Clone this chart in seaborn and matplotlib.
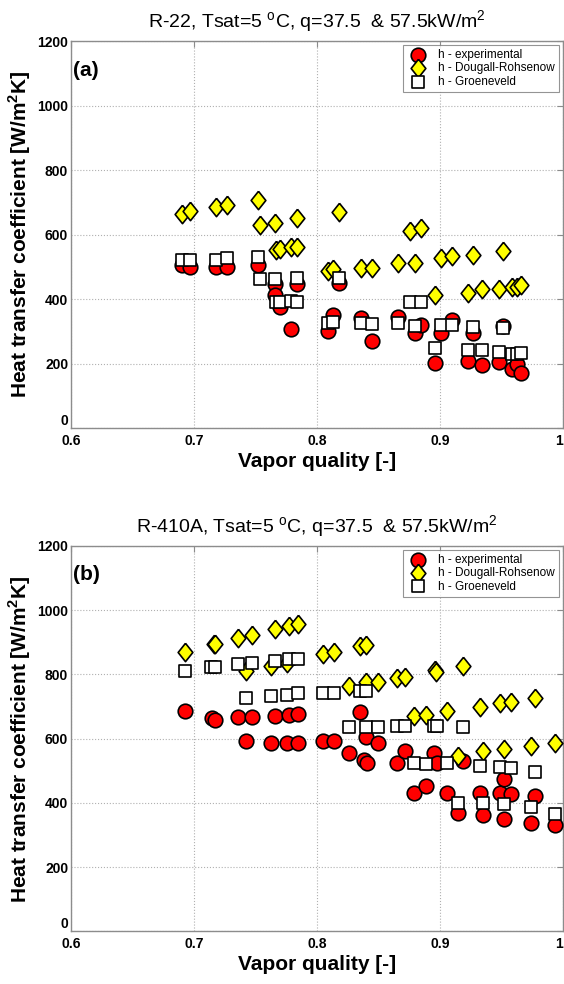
import matplotlib
matplotlib.use("Agg")
from matplotlib import pyplot as plt
import seaborn as sns

# Panel (a) : R-22
a_exp_x = [0.690, 0.697, 0.718, 0.727, 0.752, 0.766, 0.766, 0.770, 0.779, 0.784,
           0.809, 0.813, 0.818, 0.836, 0.845, 0.866, 0.880, 0.885, 0.896, 0.901,
           0.910, 0.923, 0.927, 0.934, 0.948, 0.951, 0.959, 0.963, 0.966]
a_exp_h = [504, 498, 498, 500, 507, 448, 412, 376, 306, 448,
           302, 350, 449, 340, 271, 345, 295, 319, 202, 295,
           335, 209, 294, 195, 206, 316, 182, 200, 171]

a_dr_x = [0.690, 0.697, 0.718, 0.727, 0.752, 0.754, 0.766, 0.767, 0.770, 0.779,
          0.784, 0.784, 0.809, 0.813, 0.818, 0.836, 0.845, 0.866, 0.876, 0.880,
          0.885, 0.896, 0.901, 0.910, 0.923, 0.927, 0.934, 0.948, 0.951, 0.959,
          0.963, 0.966]
a_dr_h = [665, 673, 684, 693, 707, 629, 636, 552, 554, 560,
          650, 560, 487, 492, 670, 497, 495, 512, 611, 512,
          619, 414, 526, 533, 419, 538, 430, 430, 550, 436,
          436, 443]

a_gr_x = a_dr_x
a_gr_h = [521, 521, 521, 526, 531, 461, 461, 392, 392, 394,
          464, 390, 327, 330, 464, 327, 322, 327, 390, 317,
          392, 247, 319, 321, 242, 314, 242, 237, 309, 231,
          231, 234]

# Panel (b) : R-410A
b_exp_x = [0.693, 0.715, 0.717, 0.736, 0.747, 0.742, 0.766, 0.763, 0.777, 0.776,
           0.785, 0.785, 0.805, 0.814, 0.835, 0.840, 0.826, 0.838, 0.841, 0.850,
           0.865, 0.872, 0.879, 0.889, 0.895, 0.898, 0.906, 0.919, 0.915, 0.933,
           0.935, 0.949, 0.952, 0.952, 0.958, 0.974, 0.977, 0.994]
b_exp_h = [686, 664, 658, 666, 666, 593, 671, 586, 674, 588,
           677, 586, 594, 594, 684, 605, 557, 534, 524, 586,
           524, 562, 432, 453, 557, 525, 430, 531, 368, 432,
           363, 430, 474, 349, 427, 339, 422, 332]

b_dr_x = [0.693, 0.716, 0.717, 0.736, 0.747, 0.742, 0.766, 0.763, 0.777, 0.776,
          0.785, 0.805, 0.814, 0.835, 0.840, 0.826, 0.840, 0.850, 0.865, 0.872,
          0.879, 0.889, 0.896, 0.897, 0.906, 0.919, 0.915, 0.933, 0.935, 0.949,
          0.952, 0.958, 0.974, 0.977, 0.994]
b_dr_h = [871, 894, 894, 912, 923, 812, 941, 826, 951, 835,
          957, 864, 871, 889, 892, 764, 777, 775, 788, 793,
          671, 673, 814, 808, 687, 827, 546, 700, 563, 712,
          567, 715, 577, 728, 586]

b_gr_x = [0.693, 0.714, 0.717, 0.736, 0.747, 0.742, 0.766, 0.763, 0.777, 0.776,
          0.785, 0.785, 0.805, 0.814, 0.835, 0.840, 0.826, 0.840, 0.850, 0.865,
          0.872, 0.879, 0.889, 0.895, 0.898, 0.906, 0.919, 0.915, 0.933, 0.935,
          0.949, 0.952, 0.958, 0.974, 0.977, 0.994]
b_gr_h = [812, 822, 822, 832, 837, 728, 843, 733, 847, 736,
          848, 742, 743, 743, 749, 749, 635, 635, 635, 638,
          638, 524, 521, 638, 638, 524, 635, 401, 515, 401,
          511, 397, 508, 387, 497, 366]

x_ticks = [0.6, 0.7, 0.8, 0.9, 1.0]
x_tick_labels = ["0.6", "0.7", "0.8", "0.9", "1"]
y_ticks = [0, 200, 400, 600, 800, 1000, 1200]

titles = [
    r"R-22, Tsat=5 $^{\mathrm{o}}$C, q=37.5  & 57.5kW/m$^{2}$",
    r"R-410A, Tsat=5 $^{\mathrm{o}}$C, q=37.5  & 57.5kW/m$^{2}$",
]
panel_tags = ["(a)", "(b)"]
legend_names = ["h - experimental", "h - Dougall-Rohsenow", "h - Groeneveld"]

# slightly tall diamond, like the MATLAB one
diamond = [(0, 1), (0.8, 0), (0, -1), (-0.8, 0), (0, 1)]

sns.set_style("white")
plt.rcParams["font.family"] = ["Liberation Sans", "DejaVu Sans"]
plt.rcParams["mathtext.fontset"] = "custom"
plt.rcParams["mathtext.rm"] = "Liberation Sans"
plt.rcParams["mathtext.bf"] = "Liberation Sans:bold"
plt.rcParams["text.color"] = "black"
plt.rcParams["axes.labelcolor"] = "black"
plt.rcParams["xtick.labelcolor"] = "black"
plt.rcParams["ytick.labelcolor"] = "black"

fig = plt.figure(figsize=(5.64, 9.84), dpi=100)
ax_a = fig.add_axes([0.1259, 0.565, 0.872, 0.3933])
ax_b = fig.add_axes([0.1259, 0.0534, 0.872, 0.3918])

panels = [
    (ax_a, a_exp_x, a_exp_h, a_dr_x, a_dr_h, a_gr_x, a_gr_h),
    (ax_b, b_exp_x, b_exp_h, b_dr_x, b_dr_h, b_gr_x, b_gr_h),
]

for i, (ax, ex, eh, dx, dh, gx, gh) in enumerate(panels):

    sns.scatterplot(x=ex, y=eh, ax=ax, marker="o", s=110,
                    color="#ff0000", edgecolor="black", linewidth=1.2,
                    label=legend_names[0], zorder=3)
    sns.scatterplot(x=dx, y=dh, ax=ax, marker=diamond, s=175,
                    color="#ffff00", edgecolor="black", linewidth=1.2,
                    label=legend_names[1], zorder=4)
    sns.scatterplot(x=gx, y=gh, ax=ax, marker="s", s=72,
                    color="white", edgecolor="black", linewidth=1.2,
                    label=legend_names[2], zorder=5)

    ax.set_xlim(0.6, 1.0)
    ax.set_ylim(0, 1200)
    ax.set_xticks(x_ticks)
    ax.set_xticklabels(x_tick_labels)
    ax.set_yticks(y_ticks)

    ax.grid(True, linestyle=":", color="#b0b0b0", linewidth=0.8)
    ax.set_axisbelow(True)
    for sp in ax.spines.values():
        sp.set_color("#8c8c8c")
        sp.set_linewidth(1.0)
    ax.tick_params(direction="in", length=4, width=0.8, color="#8c8c8c",
                   top=True, right=True, labelsize=10, pad=2)
    ax.tick_params(axis="x", pad=4)
    for lab in ax.get_xticklabels() + ax.get_yticklabels():
        lab.set_fontweight("bold")
    ax.get_xticklabels()[-1].set_horizontalalignment("right")
    # keep the "0" clear of "0.6" in the corner
    ax.get_yticklabels()[0].set_verticalalignment("bottom")

    ax.set_xlabel("Vapor quality [-]", fontsize=15, fontweight="bold",
                  labelpad=3)
    ax.set_ylabel(r"Heat transfer coefficient [W/m$^{\mathbf{2}}$K]",
                  fontsize=15, fontweight="bold", labelpad=3)
    ax.set_title(titles[i], fontsize=14, pad=9)

    ax.text(0.004, 0.925, panel_tags[i], transform=ax.transAxes,
            fontsize=15, fontweight="bold", va="center", ha="left")

    leg = ax.legend(loc="upper right", fontsize=8.5, frameon=True,
                    fancybox=False, borderaxespad=0.35, handletextpad=0.8,
                    labelspacing=0.1, borderpad=0.35, handlelength=1.8)
    leg.get_frame().set_edgecolor("#7a7a7a")
    leg.get_frame().set_linewidth(0.8)

plt.savefig("out.png", dpi=100)
plt.close()
